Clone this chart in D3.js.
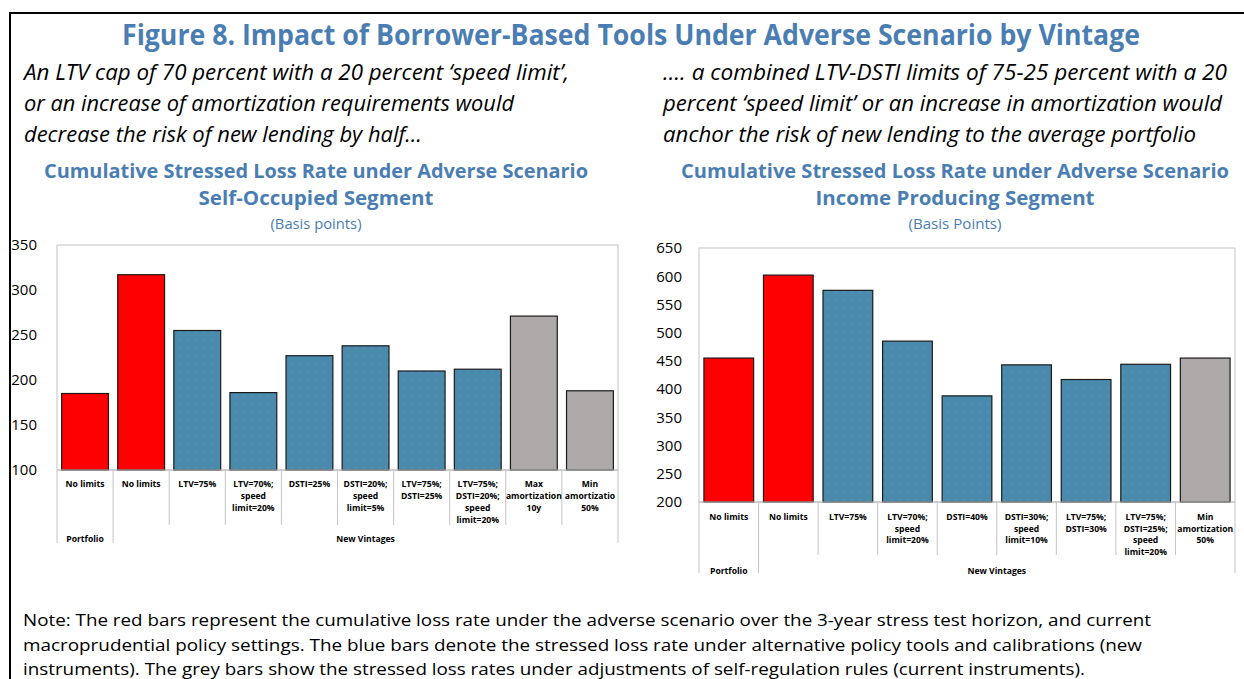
<!DOCTYPE html>
<html>
<head>
<meta charset="utf-8">
<script src="https://cdn.jsdelivr.net/npm/d3@7"></script>
<style>
  body { margin: 0; background: #fff; }
  svg { display: block; font-family: "Open Sans", "Noto Sans", sans-serif; }
</style>
</head>
<body>
<div id="chart"></div>
<script>
// --- data ---
var leftCategories = [
	["No limits"], ["No limits"], ["LTV=75%"], ["LTV=70%;", "speed", "limit=20%"],
	["DSTI=25%"], ["DSTI=20%;", "speed", "limit=5%"], ["LTV=75%;", "DSTI=25%"],
	["LTV=75%;", "DSTI=20%;", "speed", "limit=20%"], ["Max", "amortization", "10y"],
	["Min", "amortizatio", "50%"]
];
var leftValues = [185, 317, 255, 186, 227, 238, 210, 212, 271, 188];
var leftKinds = ["current", "current", "new", "new", "new", "new", "new", "new", "self", "self"];
var leftGroups = ["Portfolio", "New Vintages"];
var leftGroupSizes = [1, 9];
var leftTicks = [100, 150, 200, 250, 300, 350];

var rightCategories = [
	["No limits"], ["No limits"], ["LTV=75%"], ["LTV=70%;", "speed", "limit=20%"],
	["DSTI=40%"], ["DSTI=30%;", "speed", "limit=10%"], ["LTV=75%;", "DSTI=30%"],
	["LTV=75%;", "DSTI=25%;", "speed", "limit=20%"], ["Min", "amortization", "50%"]
];
var rightValues = [455, 602, 575, 485, 388, 443, 417, 444, 455];
var rightKinds = ["current", "current", "new", "new", "new", "new", "new", "new", "self"];
var rightGroups = ["Portfolio", "New Vintages"];
var rightGroupSizes = [1, 8];
var rightTicks = [200, 250, 300, 350, 400, 450, 500, 550, 600, 650];

var title = "Figure 8. Impact of Borrower-Based Tools Under Adverse Scenario by Vintage";
var leftLead = [
	"An LTV cap of 70 percent with a 20 percent \u2018speed limit\u2019,",
	"or an increase of amortization requirements would",
	"decrease the risk of new lending by half\u2026"
];
var rightLead = [
	"\u2026. a combined LTV-DSTI limits of 75-25 percent with a 20",
	"percent \u2018speed limit\u2019 or an increase in amortization would",
	"anchor the risk of new lending to the average portfolio"
];
var leftTitles = ["Cumulative Stressed Loss Rate under Adverse Scenario", "Self-Occupied Segment", "(Basis points)"];
var rightTitles = ["Cumulative Stressed Loss Rate under Adverse Scenario", "Income Producing Segment", "(Basis Points)"];
var noteLines = [
	"Note: The red bars represent the cumulative loss rate under the adverse scenario over the 3-year stress test horizon, and current",
	"macroprudential policy settings. The blue bars denote the stressed loss rate under alternative policy tools and calibrations (new",
	"instruments). The grey bars show the stressed loss rates under adjustments of self-regulation rules (current instruments)."
];

// --- styles ---
var blueTitle = '#4a7eb3';
var kindColor = { current: '#ff0000', 'new': '#4a8aad', self: '#aeaaaa' };

var W = 1244, H = 679;
var svg = d3.select('#chart').append('svg')
	.attr('width', W)
	.attr('height', H);

svg.append('rect').attr('width', W).attr('height', H).attr('fill', '#fff');

// faint dot texture seen on the blue bars
var defs = svg.append('defs');
var pat = defs.append('pattern')
	.attr('id', 'dots')
	.attr('width', 8).attr('height', 8)
	.attr('patternUnits', 'userSpaceOnUse');
pat.append('rect').attr('width', 8).attr('height', 8).attr('fill', kindColor['new']);
pat.append('circle').attr('cx', 4).attr('cy', 4).attr('r', 0.7).attr('fill', '#5e9abb');

// frame
svg.append('path')
	.attr('d', 'M10,' + H + 'V13H' + W)
	.attr('fill', 'none')
	.attr('stroke', '#000')
	.attr('stroke-width', 2);

function fit(sel, width) {
	sel.attr('textLength', width).attr('lengthAdjust', 'spacingAndGlyphs');
	return sel;
}

// heading
fit(svg.append('text')
	.attr('x', 122).attr('y', 45)
	.attr('fill', blueTitle)
	.style('font-size', '28px')
	.style('font-weight', 700)
	.text(title), 1018);

function lead(lines, x, widths) {
	lines.forEach(function(t, i) {
		fit(svg.append('text')
			.attr('x', x).attr('y', 80 + i * 31)
			.attr('fill', '#000')
			.style('font-size', '21px')
			.style('font-style', 'italic')
			.text(t), widths[i]);
	});
}
lead(leftLead, 24, [545, 490, 398]);
lead(rightLead, 663, [564, 559, 533]);

function chartTitles(lines, cx, widths) {
	var ys = [178, 205, 229];
	lines.forEach(function(t, i) {
		fit(svg.append('text')
			.attr('x', cx - widths[i] / 2).attr('y', ys[i])
			.attr('fill', blueTitle)
			.style('font-size', i < 2 ? '19px' : '14px')
			.style('font-weight', i < 2 ? 700 : 400)
			.text(t), widths[i]);
	});
}
chartTitles(leftTitles, 316, [544, 235, 91]);
chartTitles(rightTitles, 955, [548, 279, 93]);

function drawChart(opt) {
	var g = svg.append('g');
	var x = d3.scaleBand()
		.domain(d3.range(opt.values.length))
		.range([opt.left, opt.right])
		.paddingInner(0.165)
		.paddingOuter(0.0825);
	var y = d3.scaleLinear()
		.domain([opt.ticks[0], opt.ticks[opt.ticks.length - 1]])
		.range([opt.bottom, opt.top]);

	var step = x.step();
	var edge = function(i) { return opt.left + i * step; };

	// plot frame
	g.append('rect')
		.attr('x', opt.left).attr('y', opt.top)
		.attr('width', opt.right - opt.left)
		.attr('height', opt.bottom - opt.top)
		.attr('fill', 'none')
		.attr('stroke', '#c4c4c4')
		.attr('stroke-width', 1);

	// bars
	g.selectAll('rect.bar')
		.data(opt.values)
		.enter().append('rect')
		.attr('class', 'bar')
		.attr('x', function(d, i) { return x(i); })
		.attr('y', function(d) { return y(d); })
		.attr('width', x.bandwidth())
		.attr('height', function(d) { return opt.bottom - y(d); })
		.attr('fill', function(d, i) { return opt.kinds[i] === 'new' ? 'url(#dots)' : kindColor[opt.kinds[i]]; })
		.attr('stroke', '#1a1a1a')
		.attr('stroke-width', 1.2);

	// baseline
	g.append('line')
		.attr('x1', opt.left).attr('x2', opt.right)
		.attr('y1', opt.bottom).attr('y2', opt.bottom)
		.attr('stroke', '#bdbdbd');

	// y axis
	var yAxis = d3.axisLeft(y)
		.tickValues(opt.ticks)
		.tickSize(0)
		.tickPadding(opt.tickPad);
	var ya = g.append('g')
		.attr('transform', 'translate(' + opt.left + ',0)')
		.call(yAxis);
	ya.select('.domain').remove();
	ya.selectAll('text')
		.attr('fill', '#000')
		.style('font-family', '"Open Sans", sans-serif')
		.style('font-size', '15px');

	// category dividers
	var outer = [0];
	var acc = 0;
	opt.groupSizes.forEach(function(s) { acc += s; outer.push(acc); });
	d3.range(opt.values.length + 1).forEach(function(i) {
		var isOuter = outer.indexOf(i) >= 0;
		g.append('line')
			.attr('x1', edge(i)).attr('x2', edge(i))
			.attr('y1', opt.bottom)
			.attr('y2', opt.bottom + (isOuter ? opt.outerLen : opt.innerLen))
			.attr('stroke', '#c4c4c4');
	});

	// category labels
	opt.categories.forEach(function(lines, i) {
		var t = g.append('text')
			.attr('text-anchor', 'middle')
			.attr('fill', '#000')
			.style('font-size', '8.6px')
			.style('font-weight', 700);
		lines.forEach(function(l, j) {
			t.append('tspan')
				.attr('x', x(i) + x.bandwidth() / 2)
				.attr('y', opt.bottom + opt.labelOff + j * opt.lineH)
				.text(l);
		});
	});

	// group labels
	opt.groups.forEach(function(name, k) {
		var a = outer[k], b = outer[k + 1];
		g.append('text')
			.attr('x', (edge(a) + edge(b)) / 2)
			.attr('y', opt.bottom + opt.groupOff)
			.attr('text-anchor', 'middle')
			.attr('fill', '#000')
			.style('font-size', '8.6px')
			.style('font-weight', 700)
			.text(name);
	});
}

drawChart({
	categories: leftCategories, values: leftValues, kinds: leftKinds,
	groups: leftGroups, groupSizes: leftGroupSizes, ticks: leftTicks,
	left: 57, right: 618, top: 245, bottom: 470, tickPad: 20,
	labelOff: 17, lineH: 12, innerLen: 55, outerLen: 73, groupOff: 72
});

drawChart({
	categories: rightCategories, values: rightValues, kinds: rightKinds,
	groups: rightGroups, groupSizes: rightGroupSizes, ticks: rightTicks,
	left: 699, right: 1235, top: 248, bottom: 502, tickPad: 17,
	labelOff: 18, lineH: 11.7, innerLen: 53, outerLen: 71, groupOff: 72
});

// note
var noteW = [1128, 1119, 1062];
noteLines.forEach(function(t, i) {
	fit(svg.append('text')
		.attr('x', 23).attr('y', 626 + i * 24.5)
		.attr('fill', '#000')
		.style('font-size', '17px')
		.text(t), noteW[i]);
});
</script>
</body>
</html>
